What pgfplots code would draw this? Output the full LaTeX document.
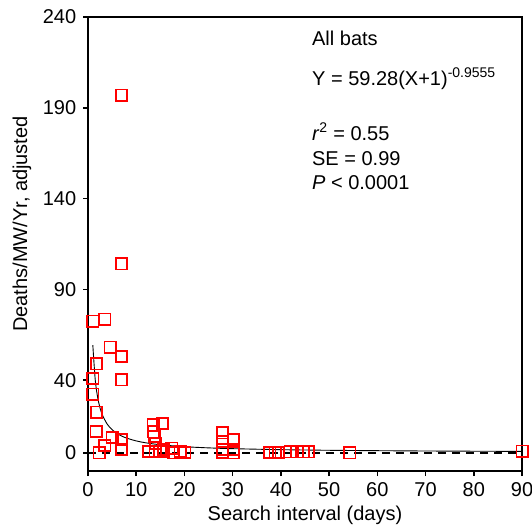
\documentclass[border=0pt]{standalone}
\usepackage{pgfplots}
\pgfplotsset{compat=1.18}
\usepackage{fontspec}
\setmainfont{Liberation Sans}
\begin{document}
\fontsize{20}{24}\selectfont
\begin{tikzpicture}
\begin{axis}[
  name=ax,
  scale only axis,
  width=434pt, height=454pt,
  xmin=0, xmax=90, ymin=-10, ymax=240,
  xtick={0,10,...,90},
  ytick={0,40,90,140,190,240},
  axis line style={line width=1.6pt},
  tick style={line width=1.6pt, black},
  xtick pos=bottom, ytick pos=left,
  tick align=outside,
  major tick length=5pt,
  /pgf/number format/assume math mode=true,
  ticklabel style={font=\fontsize{20}{24}\selectfont},
  xlabel={Search interval (days)},
  ylabel={Deaths/MW/Yr, adjusted},
  label style={font=\fontsize{20}{24}\selectfont},
  xlabel style={at={(axis description cs:0.5,-0.110)}, anchor=base},
  ylabel style={at={(axis description cs:-0.152,0.544)}, anchor=center},
  clip=false,
]
\addplot[black, line width=2.5pt, dash pattern=on 8pt off 6pt] coordinates {(0,0) (90,0)};
\addplot[black, line width=0.9pt, smooth] coordinates {
(1,59.28) (1.5,40.24) (2,30.57) (2.5,24.70) (3,20.75) (4,15.76) (5,12.74)
(6,10.70) (7,9.24) (8,8.13) (10,6.57) (12,5.52) (15,4.46) (20,3.39)
(25,2.74) (30,2.30) (40,1.75) (50,1.41) (60,1.19) (70,1.02) (80,0.90) (90,0.80)};
\addplot[only marks, mark=square, mark size=5.6pt, draw=red, line width=1.8pt] table {
x y
1 72.6
1 40.9
1 32.3
1.8 49
1.8 22.4
1.7 11.7
2.3 0
3.5 73.6
3.5 3.9
4.6 58.2
5 8.4
7 197
7 104
7 53.2
7 40.2
7 7.2
7 2
12.5 0.7
13.5 15.4
13.6 11.5
13.7 9
13.9 0.7
14 5
15.5 16.3
15.6 0.7
15.6 2
17.4 2.6
17.8 0
19.1 0.7
20.1 0.2
27.9 11
27.9 6.4
27.9 1.8
27.9 0.3
30.2 7.3
30.2 1.8
30.2 0
37.7 0.3
38.8 0.3
39.5 0.3
41.9 0.5
43.3 0.5
44.7 0.5
45.7 0.5
54.3 0
90 1
};
\node[anchor=base west, inner sep=0pt] at (axis description cs:0.516,0.938) {All bats};
\node[anchor=base west, inner sep=0pt] at (axis description cs:0.516,0.850) {Y = 59.28(X+1)\textsuperscript{-0.9555}};
\node[anchor=base west, inner sep=0pt] at (axis description cs:0.516,0.729) {\textit{r}\textsuperscript{2} = 0.55};
\node[anchor=base west, inner sep=0pt] at (axis description cs:0.516,0.674) {SE = 0.99};
\node[anchor=base west, inner sep=0pt] at (axis description cs:0.516,0.619) {\textit{P} < 0.0001};
\end{axis}
\path (ax.south west) ++(-88pt,-56pt) coordinate (bbA);
\path (ax.north east) ++(10pt,17pt) coordinate (bbB);
\pgfresetboundingbox
\path[use as bounding box] (bbA) rectangle (bbB);
\end{tikzpicture}
\end{document}
